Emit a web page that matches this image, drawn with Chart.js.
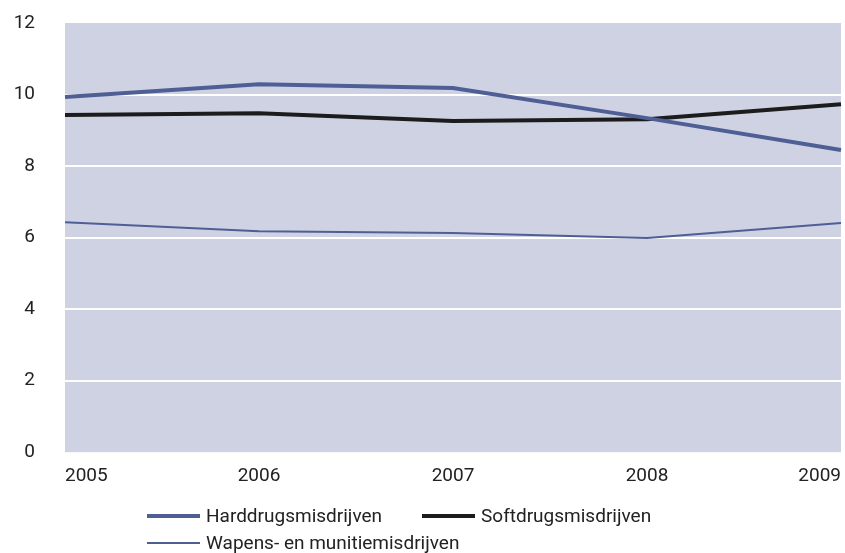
<!DOCTYPE html>
<html lang="nl">
<head>
    <meta charset="UTF-8">
    <title>Misdrijven 2005-2009</title>
    <script src="https://cdn.jsdelivr.net/npm/chart.js"></script>
    <style>
        body { margin: 0; background: #fff; }
        .wrap { position: relative; width: 845px; height: 553px; }
        .legend {
            position: absolute; left: 147px; top: 502px; width: 540px;
            display: flex; flex-wrap: wrap; column-gap: 40px;
            font-family: Roboto, sans-serif; font-size: 19px; color: #222;
            line-height: 27px;
        }
        .legend .item { display: flex; align-items: center; }
        .legend .swatch { width: 53px; margin-right: 6px; }
    </style>
</head>
<body>
    <div class="wrap">
        <canvas id="lineChart"></canvas>
        <div class="legend" id="legend"></div>
    </div>

<script>
    const years = ["2005", "2006", "2007", "2008", "2009"];
    const harddrugs = [9.93, 10.29, 10.18, 9.34, 8.45];
    const softdrugs = [9.43, 9.48, 9.26, 9.31, 9.73];
    const wapens = [6.43, 6.18, 6.13, 5.99, 6.41];
    const yTicks = [0, 2, 4, 6, 8, 10, 12];

    // paint the grey-blue plot area before everything else
    const plotBg = {
        id: "plotBg",
        beforeDraw(chart) {
            const { ctx, chartArea: a } = chart;
            ctx.save();
            ctx.fillStyle = "#ced2e3";
            ctx.fillRect(a.left, a.top, a.right - a.left, a.bottom - a.top);
            ctx.restore();
        }
    };

    const chart = new Chart(document.getElementById("lineChart"), {
        type: "line",
        data: {
            labels: years,
            datasets: [
                { label: "Harddrugsmisdrijven", data: harddrugs, borderColor: "#4f5f95", borderWidth: 4 },
                { label: "Softdrugsmisdrijven", data: softdrugs, borderColor: "#1c1c1c", borderWidth: 4 },
                { label: "Wapens- en munitiemisdrijven", data: wapens, borderColor: "#4f5f95", borderWidth: 2 }
            ]
        },
        options: {
            responsive: true,
            maintainAspectRatio: false,
            animation: false,
            layout: { padding: { left: 0, right: 4, top: 23, bottom: 52 } },
            elements: { point: { radius: 0 }, line: { tension: 0 } },
            plugins: { legend: { display: false }, tooltip: { enabled: false } },
            scales: {
                x: {
                    offset: false,
                    afterFit(axis) { axis.paddingLeft = 0; axis.paddingRight = 0; },
                    border: { display: false },
                    grid: { display: false, drawTicks: false, tickLength: 0 },
                    ticks: {
                        align: "inner", padding: 13, color: "#222",
                        font: { family: "Roboto", size: 19 }
                    }
                },
                y: {
                    min: 0, max: 12,
                    afterBuildTicks(axis) { axis.ticks = yTicks.map(v => ({ value: v })); },
                    // fixed axis width, and drop the extra top/bottom space the tick padding adds
                    afterFit(axis) { axis.width = 65; axis.paddingTop = 0; axis.paddingBottom = 0; },
                    border: { display: false },
                    grid: {
                        drawTicks: false, tickLength: 0, lineWidth: 2,
                        color: c => (c.tick && (c.tick.value === 0 || c.tick.value === 12)) ? "rgba(0,0,0,0)" : "#ffffff"
                    },
                    ticks: {
                        padding: 30, color: "#222",
                        font: { family: "Roboto", size: 19 }
                    }
                }
            }
        },
        plugins: [plotBg]
    });

    // legend underneath, built from the datasets
    const legend = document.getElementById("legend");
    chart.data.datasets.forEach(ds => {
        const item = document.createElement("div");
        item.className = "item";
        const sw = document.createElement("span");
        sw.className = "swatch";
        sw.style.height = ds.borderWidth + "px";
        sw.style.background = ds.borderColor;
        const txt = document.createElement("span");
        txt.textContent = ds.label;
        item.appendChild(sw);
        item.appendChild(txt);
        legend.appendChild(item);
    });
</script>
</body>
</html>
